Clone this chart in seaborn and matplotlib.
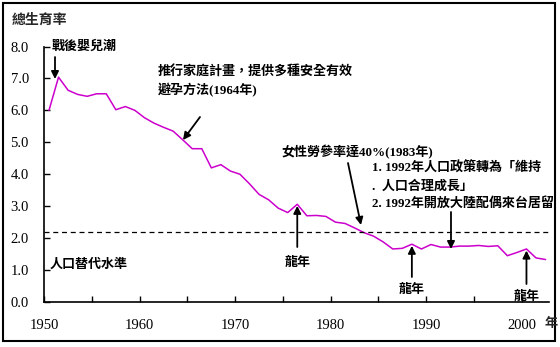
import matplotlib
matplotlib.use("Agg")
import matplotlib.pyplot as plt
import matplotlib.patches as mpatches
import seaborn as sns
import pandas as pd

# ---- data ----
years = list(range(1950, 2003))
tfr = [6.0, 7.04, 6.63, 6.5, 6.44, 6.52, 6.52, 6.02, 6.12, 6.0,
       5.77, 5.6, 5.47, 5.35, 5.08, 4.8, 4.8, 4.2, 4.3, 4.1,
       4.0, 3.7, 3.37, 3.2, 2.94, 2.8, 3.06, 2.7, 2.71, 2.68,
       2.5, 2.46, 2.32, 2.17, 2.06, 1.88, 1.66, 1.68, 1.81, 1.66,
       1.8, 1.72, 1.72, 1.75, 1.75, 1.77, 1.74, 1.76, 1.45, 1.55,
       1.66, 1.38, 1.33]
replacement_level = 2.2
xtick_labels = ["1950", "", "1960", "", "1970", "", "1980", "", "1990", "", "2000"]
ytick_values = [0, 1, 2, 3, 4, 5, 6, 7, 8]
dragon_years = [1976, 1988, 2000]

title_text = "總生育率"
ann_babyboom = "戰後嬰兒潮"
ann_family = "推行家庭計畫，提供多種安全有效\n避孕方法(1964年)"
ann_women = "女性勞參率達40%(1983年)"
ann_1992 = "1. 1992年人口政策轉為「維持\n.  人口合理成長」\n2. 1992年開放大陸配偶來台居留"
ann_replace = "人口替代水準"
ann_dragon = "龍年"
xunit = "年"

df = pd.DataFrame({"year": years, "tfr": tfr})

sns.set_style("ticks")
plt.rcParams["font.family"] = ["Noto Sans CJK TC", "DejaVu Sans"]

W, H = 560, 347
fig = plt.figure(figsize=(W / 100, H / 100), dpi=100)
ax = fig.add_axes([44.2 / W, 45 / H, (549 - 44.2) / W, (302 - 46.5) / H])

sns.lineplot(data=df, x="year", y="tfr", ax=ax, color="#CC00CC", lw=1.1)
ax.axhline(replacement_level, color="black", lw=0.9, ls=(0, (4, 3)))

ax.set_xlim(1949.5, 2002.36)
ax.set_ylim(0, 8)
ax.set_xlabel("")
ax.set_ylabel("")
for s in ["top", "right"]:
    ax.spines[s].set_visible(False)
for s in ["left", "bottom"]:
    ax.spines[s].set_linewidth(1.2)
    ax.spines[s].set_color("black")

serif = "Liberation Serif"
mixed = ["Liberation Serif", "Noto Sans CJK TC"]
xt = [1949.5 + 5 * k for k in range(len(xtick_labels))]
ax.set_xticks(xt)
ax.set_xticklabels(xtick_labels, fontfamily=serif, fontsize=10.5)
ax.set_yticks(ytick_values)
ax.set_yticklabels([f"{v:.1f}" for v in ytick_values], fontfamily=serif, fontsize=10.5)
ax.tick_params(axis="x", direction="in", length=4, width=1, pad=12, colors="black")
ax.tick_params(axis="y", direction="in", length=4, width=1, pad=11, colors="black")

# title
fig.text(12 / W, 1 - 20 / H, title_text, fontsize=10, va="center", ha="left",
         fontweight="bold")
# unit
fig.text(551 / W, 1 - 323 / H, xunit, fontsize=9.5, va="center", ha="center",
         fontweight="bold")

def px(x, y):
    return ((x - 44.2) / 9.55 + 1949.5, (302 - y) / 31.94)

arrow = dict(arrowstyle="-|>", color="black", lw=1.3, mutation_scale=11,
             shrinkA=0, shrinkB=0)
tk = dict(fontsize=9.4, color="black", fontweight="bold", family=mixed)

# baby boom
ax.text(*px(52, 47), ann_babyboom, ha="left", va="center", **tk)
ax.annotate("", xy=px(55, 79), xytext=px(55, 57), arrowprops=arrow)

# family planning
ax.text(*px(158, 81), ann_family, ha="left", va="center", linespacing=1.4, **tk)
ax.annotate("", xy=px(183, 140), xytext=px(200, 117), arrowprops=arrow)

# women labour
ax.text(*px(282, 152), ann_women, ha="left", va="center", **tk)
ax.annotate("", xy=px(361, 225), xytext=px(348, 163), arrowprops=arrow)

# 1992 policy
ax.text(*px(372, 186), ann_1992, ha="left", va="center", linespacing=1.5, **tk)
ax.annotate("", xy=px(451, 249), xytext=px(451, 212), arrowprops=arrow)

# replacement level
ax.text(*px(50, 265), ann_replace, ha="left", va="center", **tk)

# dragon years
dragon_text_y = [263, 290, 297]
dragon_tail_y = [247, 277, 284]
for yr, ty, tl in zip(dragon_years, dragon_text_y, dragon_tail_y):
    i = years.index(yr)
    xd = yr
    ax.text(xd, (302 - ty) / 31.94, ann_dragon, ha="center", va="center", **tk)
    ax.annotate("", xy=(xd, tfr[i] - 0.05), xytext=(xd, (302 - tl) / 31.94),
                arrowprops=arrow)

# outer border
fig.patches.append(mpatches.Rectangle((3 / W, (H - 341) / H), 552 / W, 338 / H,
                                      transform=fig.transFigure, fill=False,
                                      edgecolor="black", lw=1.5))

fig.savefig("out.png", dpi=100)
